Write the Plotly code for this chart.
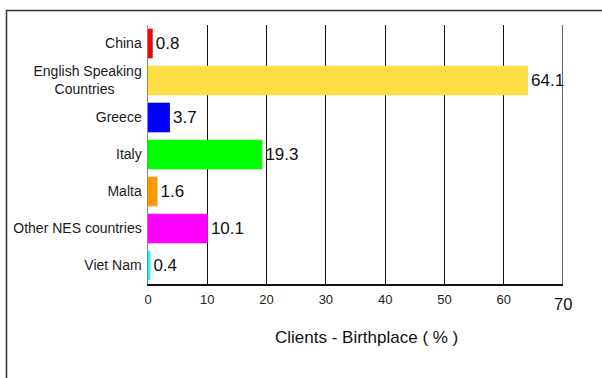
import plotly.graph_objects as go

categories = ["China", "English Speaking<br>Countries&nbsp;&nbsp;&nbsp;&nbsp;&nbsp;&nbsp;&nbsp;", "Greece", "Italy", "Malta",
              "Other NES countries", "Viet Nam"]
values = [0.8, 64.1, 3.7, 19.3, 1.6, 10.1, 0.4]
bar_colors = ["#FF0000", "#FFDD44", "#0000FF", "#00FF00", "#FF9900", "#FF00FF", "#00FFFF"]
tick_vals = [0, 10, 20, 30, 40, 50, 60, 70]
tick_labels = ["0", "10", "20", "30", "40", "50", "60", "70"]
x_title = "Clients - Birthplace ( % )"

FONT = "Liberation Sans, Arial, sans-serif"

fig = go.Figure()
fig.add_trace(go.Bar(
    y=categories, x=values, orientation="h",
    marker=dict(color=bar_colors, line=dict(width=0)),
    text=[f"{v:.1f}" for v in values], textposition="outside",
    textfont=dict(size=17, color="#111", family=FONT),
    cliponaxis=False, constraintext="none",
    hoverinfo="skip",
))

fig.update_layout(
    width=602, height=378,
    margin=dict(l=148, r=39, t=25, b=94),
    paper_bgcolor="white", plot_bgcolor="white",
    bargap=0.2, showlegend=False,
    font=dict(family=FONT, color="#222"),
    xaxis=dict(range=[0, 70], tickvals=tick_vals[:-1], ticktext=tick_labels[:-1],
               showgrid=True, gridcolor="#111", gridwidth=1,
               zeroline=False, showline=True, linecolor="#111", linewidth=1.5,
               ticks="", tickfont=dict(size=13, color="#222"),
               ticklabelstandoff=3, fixedrange=True),
    yaxis=dict(autorange="reversed", showgrid=False, zeroline=False,
               showline=True, linecolor="#888", linewidth=1.5,
               ticks="", tickfont=dict(size=14, color="#1a1a1a"),
               ticklabelstandoff=2, fixedrange=True),
)

# right-edge gridline at 70 and larger "70" label
fig.add_shape(type="line", xref="x", yref="paper", x0=tick_vals[-1], x1=tick_vals[-1], y0=0, y1=1,
              line=dict(color="#333", width=1.5))
fig.add_annotation(x=tick_vals[-1], xref="x", y=-0.035, yref="paper", yanchor="top",
                   text=tick_labels[-1], showarrow=False, font=dict(size=16.5, color="#111", family=FONT))

# axis title
fig.add_annotation(x=0.527, xref="paper", y=-0.207, yref="paper", yanchor="middle",
                   text=x_title, showarrow=False, font=dict(size=17, color="#111", family=FONT))

# outer frame
fig.add_shape(type="rect", xref="paper", yref="paper",
              x0=(6.5 - 148) / 415, x1=(640 - 148) / 415,
              y0=(284 - 420) / 259, y1=(284 - 10.5) / 259,
              line=dict(color="#333", width=1.5), fillcolor="rgba(0,0,0,0)", layer="below")

fig.write_html("out.html", config={"displayModeBar": False, "staticPlot": True},
               post_script="document.body.style.margin='0';document.body.style.padding='0';")
